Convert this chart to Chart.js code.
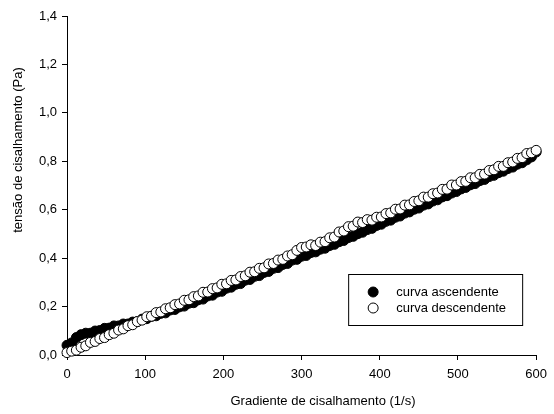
<!DOCTYPE html>
<html>
<head>
<meta charset="UTF-8">
<title>Curva de escoamento</title>
<script src="https://cdn.jsdelivr.net/npm/chart.js"></script>
<style>
  body { margin: 0; background: #fff; }
  #wrap { width: 554px; height: 414px; }
</style>
</head>
<body>
<div id="wrap"><canvas id="grafico"></canvas></div>
<script>
// gradiente de cisalhamento (1/s), comum às duas curvas
var gradiente = [
    0,   6,  12,  18,  24,  30,  36,  42,  48,  54,
   60,  66,  72,  78,  84,  90,  96, 102, 108, 114,
  120, 126, 132, 138, 144, 150, 156, 162, 168, 174,
  180, 186, 192, 198, 204, 210, 216, 222, 228, 234,
  240, 246, 252, 258, 264, 270, 276, 282, 288, 294,
  300, 306, 312, 318, 324, 330, 336, 342, 348, 354,
  360, 366, 372, 378, 384, 390, 396, 402, 408, 414,
  420, 426, 432, 438, 444, 450, 456, 462, 468, 474,
  480, 486, 492, 498, 504, 510, 516, 522, 528, 534,
  540, 546, 552, 558, 564, 570, 576, 582, 588, 594,
  600
];

// tensão de cisalhamento (Pa) - curva ascendente
var ascendente = [
  0.040, 0.050, 0.072, 0.084, 0.090, 0.090, 0.099, 0.101, 0.110, 0.111,
  0.120, 0.120, 0.128, 0.128, 0.136, 0.138, 0.148, 0.150, 0.160, 0.162,
  0.172, 0.174, 0.186, 0.188, 0.199, 0.202, 0.214, 0.216, 0.228, 0.231,
  0.244, 0.247, 0.260, 0.263, 0.276, 0.280, 0.292, 0.295, 0.309, 0.312,
  0.325, 0.328, 0.341, 0.345, 0.358, 0.361, 0.374, 0.378, 0.392, 0.395,
  0.408, 0.411, 0.423, 0.426, 0.437, 0.441, 0.452, 0.457, 0.468, 0.473,
  0.485, 0.490, 0.501, 0.507, 0.518, 0.523, 0.535, 0.540, 0.552, 0.557,
  0.569, 0.574, 0.586, 0.591, 0.602, 0.607, 0.619, 0.624, 0.636, 0.641,
  0.653, 0.658, 0.669, 0.675, 0.686, 0.692, 0.703, 0.708, 0.720, 0.725,
  0.737, 0.742, 0.753, 0.759, 0.770, 0.776, 0.788, 0.794, 0.806, 0.818,
  0.838
];

// tensão de cisalhamento (Pa) - curva descendente
var descendente = [
  0.010, 0.016, 0.020, 0.032, 0.038, 0.052, 0.056, 0.068, 0.072, 0.084,
  0.090, 0.103, 0.108, 0.121, 0.125, 0.138, 0.144, 0.158, 0.160, 0.175,
  0.178, 0.191, 0.195, 0.208, 0.211, 0.226, 0.228, 0.241, 0.244, 0.259,
  0.260, 0.274, 0.277, 0.292, 0.294, 0.308, 0.310, 0.324, 0.327, 0.342,
  0.344, 0.358, 0.360, 0.376, 0.378, 0.392, 0.395, 0.409, 0.414, 0.432,
  0.444, 0.446, 0.455, 0.452, 0.466, 0.468, 0.484, 0.487, 0.508, 0.512,
  0.530, 0.532, 0.549, 0.547, 0.559, 0.557, 0.569, 0.570, 0.584, 0.587,
  0.602, 0.603, 0.619, 0.620, 0.634, 0.637, 0.652, 0.652, 0.666, 0.669,
  0.684, 0.685, 0.702, 0.702, 0.716, 0.717, 0.732, 0.732, 0.746, 0.747,
  0.762, 0.765, 0.779, 0.779, 0.794, 0.797, 0.812, 0.815, 0.832, 0.835,
  0.845
];

var ticksX = [0, 100, 200, 300, 400, 500, 600];
var ticksY = [0, 0.2, 0.4, 0.6, 0.8, 1.0, 1.2, 1.4];

var tituloX = 'Gradiente de cisalhamento (1/s)';
var tituloY = 'tensão de cisalhamento (Pa)';

var fonte = '"Liberation Sans", Arial, sans-serif';

function pontos(ys) {
    return gradiente.map(function(x, i) { return { x: x, y: ys[i] }; });
}

// legenda em caixa e títulos dos eixos
var legendaETitulos = {
    id: 'legendaETitulos',
    afterDraw: function(chart) {
        var ctx = chart.ctx;
        var area = chart.chartArea;
        ctx.save();
        ctx.fillStyle = '#000';
        ctx.font = '13px ' + fonte;
        ctx.textAlign = 'center';
        ctx.textBaseline = 'middle';
        ctx.fillText(tituloX, 323, 401);
        ctx.save();
        ctx.translate(18, 150);
        ctx.rotate(-Math.PI / 2);
        ctx.fillText(tituloY, 0, 0);
        ctx.restore();

        // caixa da legenda
        var bx = area.right - 188, by = area.bottom - 81;
        ctx.lineWidth = 1;
        ctx.strokeStyle = '#000';
        ctx.strokeRect(bx + 0.5, by + 0.5, 174, 51);
        ctx.textAlign = 'left';
        chart.data.datasets.forEach(function(ds, i) {
            var cy = by + 18 + i * 16;
            ctx.beginPath();
            ctx.arc(bx + 25, cy, 5, 0, Math.PI * 2);
            ctx.fillStyle = ds.backgroundColor;
            ctx.fill();
            ctx.strokeStyle = ds.borderColor;
            ctx.stroke();
            ctx.fillStyle = '#000';
            ctx.fillText(ds.label, bx + 48, cy);
        });
        ctx.restore();
    }
};

function eixo(ticks, largura, altura, padding, formato) {
    return {
        type: 'linear',
        min: ticks[0],
        max: ticks[ticks.length - 1],
        afterBuildTicks: function(scale) {
            scale.ticks = ticks.map(function(v) { return { value: v }; });
        },
        afterFit: function(scale) {
            if (largura) scale.width = largura;
            if (altura) scale.height = altura;
        },
        border: { display: true, color: '#000', width: 1 },
        grid: { display: true, drawOnChartArea: false, drawTicks: true, tickLength: 5, color: '#000' },
        ticks: {
            color: '#000',
            padding: padding,
            maxRotation: 0,
            font: { family: fonte, size: 13 },
            callback: formato
        },
        title: { display: false }
    };
}

new Chart(document.getElementById('grafico'), {
    type: 'scatter',
    data: {
        datasets: [{
            label: 'curva ascendente',
            data: pontos(ascendente),
            backgroundColor: '#000',
            borderColor: '#000',
            borderWidth: 1,
            pointRadius: 5,
            order: 2,
            clip: false
        }, {
            label: 'curva descendente',
            data: pontos(descendente),
            backgroundColor: '#fff',
            borderColor: '#000',
            borderWidth: 1,
            pointRadius: 5,
            order: 1,
            clip: false
        }]
    },
    options: {
        responsive: true,
        maintainAspectRatio: false,
        animation: false,
        layout: { padding: { left: 0, top: 16, right: 17, bottom: 0 } },
        plugins: {
            legend: { display: false },
            tooltip: { enabled: false }
        },
        scales: {
            x: eixo(ticksX, 0, 59, 7, function(v) { return String(v); }),
            y: eixo(ticksY, 67, 0, 5, function(v) { return v.toFixed(1).replace('.', ','); })
        }
    },
    plugins: [legendaETitulos]
});
</script>
</body>
</html>
